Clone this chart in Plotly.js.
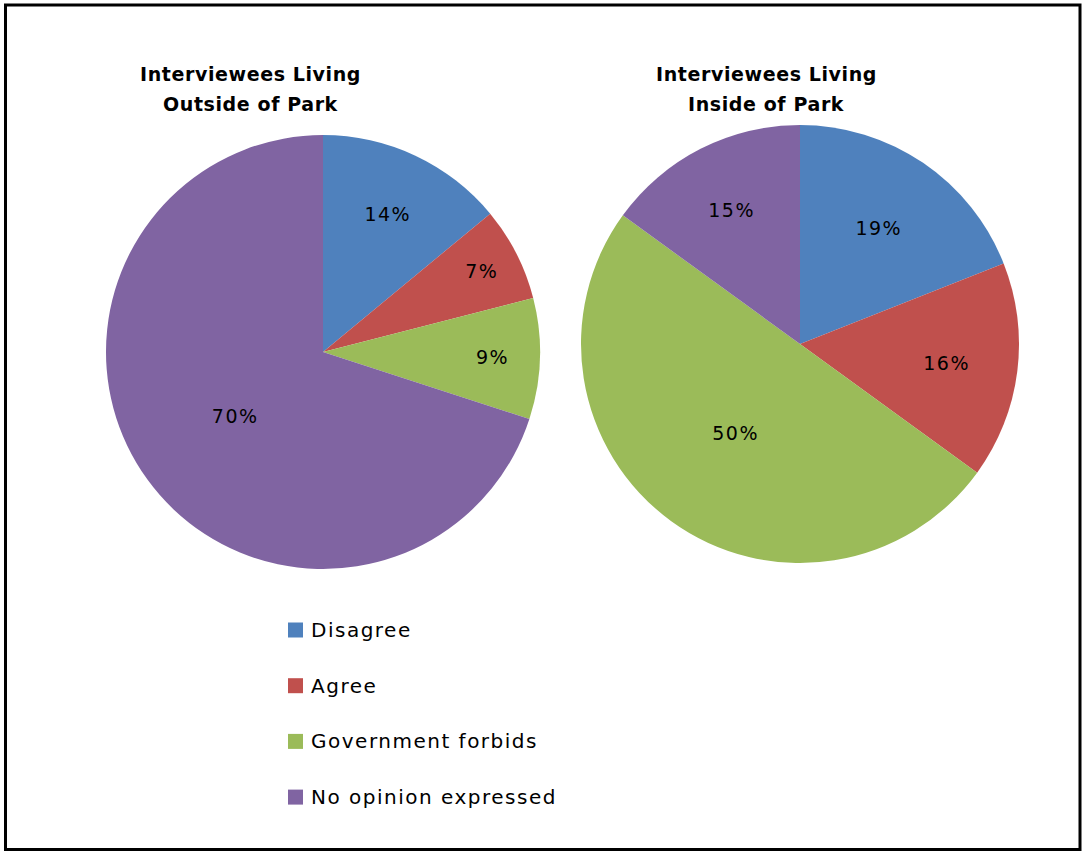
<!DOCTYPE html>
<html>
<head>
<meta charset="utf-8">
<script src="https://cdn.plot.ly/plotly-3.0.1.min.js"></script>
<style>html,body{margin:0;padding:0;background:#fff;}#chart{width:1082px;height:852px;}</style>
</head>
<body>
<div id="chart"></div>
<script>
const categories = ["Disagree", "Agree", "Government forbids", "No opinion expressed"];
const outsideValues = [14, 7, 9, 70];
const insideValues = [19, 16, 50, 15];
const colors = ["#4F81BD", "#C0504D", "#9BBB59", "#8064A2"];
const titleOutside = ["Interviewees Living", "Outside of Park"];
const titleInside = ["Interviewees Living", "Inside of Park"];

const W = 1082, H = 852;
const px = x => x / W;
const py = y => 1 - y / H;
const spaced = (t, s) => '<span style="letter-spacing:' + s + 'px">' + t + '</span>';

function pieTrace(values, cx, cy, r) {
  return {
    type: "pie",
    labels: categories,
    values: values,
    sort: false,
    direction: "clockwise",
    rotation: 0,
    marker: {colors: colors, line: {width: 0}},
    texttemplate: spaced("%{percent:.0%}", 1.5),
    textposition: "inside",
    insidetextorientation: "horizontal",
    textfont: {family: "DejaVu Sans", size: 19, color: "#000"},
    showlegend: false,
    hoverinfo: "label+percent",
    domain: {x: [px(cx - r), px(cx + r)], y: [py(cy + r), py(cy - r)]}
  };
}

const data = [
  pieTrace(outsideValues, 323, 352, 217),
  pieTrace(insideValues, 800, 344, 219)
];

const annotations = [];
[[titleOutside, 250], [titleInside, 766]].forEach(([lines, cx]) => {
  lines.forEach((ln, j) => {
    annotations.push({text: spaced(ln, 0.6), x: px(cx), y: py(74 + j * 30), xref: "paper", yref: "paper",
      showarrow: false, xanchor: "center", yanchor: "middle",
      font: {family: "DejaVu Sans", size: 19, color: "#000", weight: "bold"}});
  });
});
const shapes = [
  {type: "rect", xref: "paper", yref: "paper", x0: px(5.5), x1: px(1080), y0: py(5), y1: py(849.5),
   line: {color: "#000", width: 3}, fillcolor: "rgba(0,0,0,0)"}
];
categories.forEach((c, i) => {
  const yc = 630 + i * 55.7;
  shapes.push({type: "rect", xref: "paper", yref: "paper", x0: px(288), x1: px(303),
    y0: py(yc + 7.5), y1: py(yc - 7.5), line: {width: 0}, fillcolor: colors[i]});
  annotations.push({text: spaced(c, 1.5), x: px(309), y: py(yc), xref: "paper", yref: "paper", showarrow: false,
    xanchor: "left", yanchor: "middle", font: {family: "DejaVu Sans", size: 20, color: "#000"}});
});

const layout = {
  width: W, height: H,
  margin: {l: 0, r: 0, t: 0, b: 0},
  paper_bgcolor: "#fff",
  showlegend: false,
  annotations: annotations,
  shapes: shapes
};

Plotly.newPlot("chart", data, layout, {displayModeBar: false, staticPlot: true});
</script>
</body>
</html>
